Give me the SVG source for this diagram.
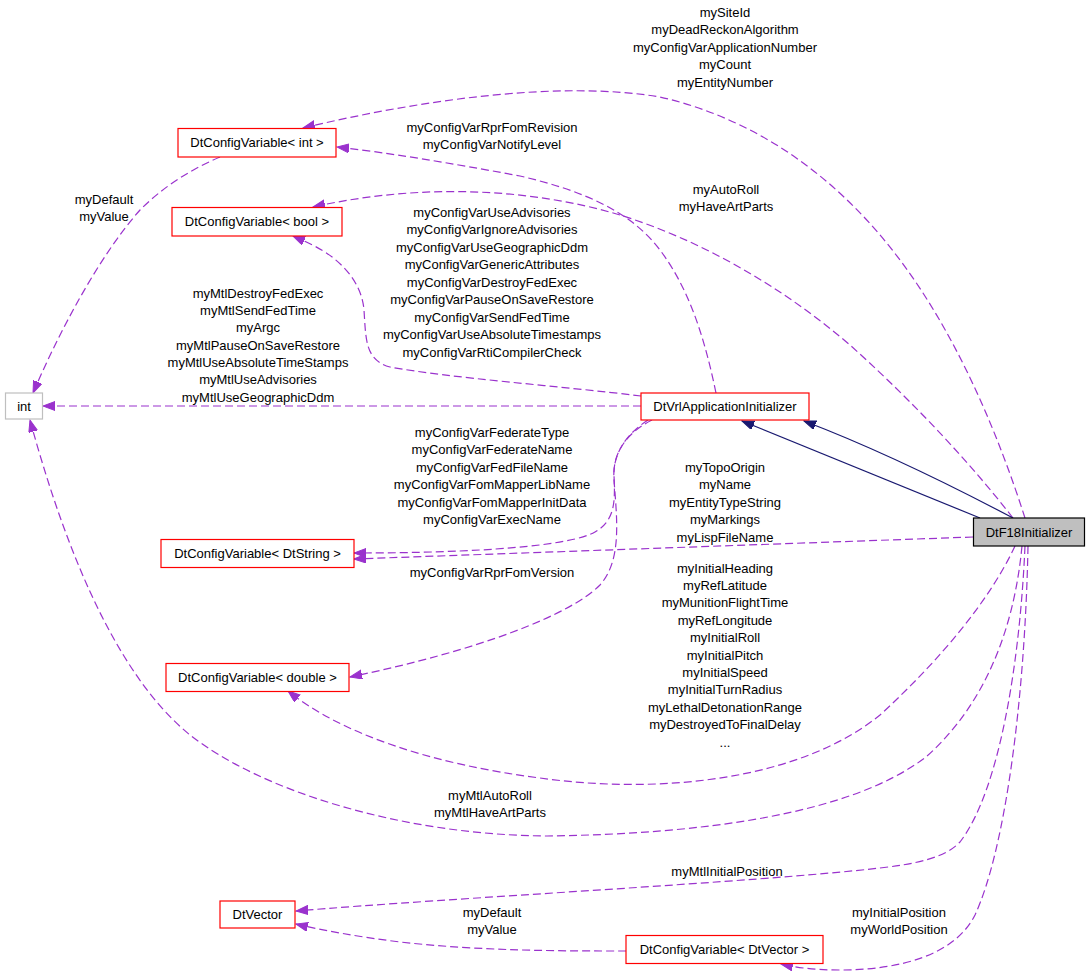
<svg xmlns="http://www.w3.org/2000/svg" width="1091" height="977" viewBox="0 0 1091 977">
<style>
.bg{fill:#ffffff}
.node rect{fill:#ffffff;stroke:#ff0000;stroke-width:1.2}
.node text,.lbl{font-family:"Liberation Sans",Arial,Helvetica,sans-serif;font-size:13px;text-anchor:middle;fill:#000000}
.dep{fill:none;stroke:#9a32cd;stroke-width:1.2;stroke-dasharray:8,4;marker-end:url(#ap)}
.inh{fill:none;stroke:#191970;stroke-width:1.2;marker-end:url(#an)}
</style>
<defs>
<marker id="ap" markerUnits="userSpaceOnUse" markerWidth="13" markerHeight="10" refX="12" refY="4.5" orient="auto">
<path d="M0,0 L12,4.5 L0,9 Z" fill="#9a32cd" stroke="#9a32cd" stroke-width="1" stroke-dasharray="none"/>
</marker>
<marker id="an" markerUnits="userSpaceOnUse" markerWidth="13" markerHeight="10" refX="12" refY="4.5" orient="auto">
<path d="M0,0 L12,4.5 L0,9 Z" fill="#191970" stroke="#191970" stroke-width="1" stroke-dasharray="none"/>
</marker>
</defs>
<rect class="bg" x="0" y="0" width="1091" height="977"/>

<g id="connectors">
<!-- DtF18 -> DtConfigVariable<int> -->
<path class="dep" d="M1025,518 C1000,440 960,340 900,260 C840,180 760,120 660,97 C560,80 420,100 303,128"/>
<!-- DtVrl -> DtConfigVariable<int> -->
<path class="dep" d="M716,393 C705,340 690,290 660,250 C630,210 580,190 520,176 C450,163 390,153 337,147"/>
<!-- DtF18 -> DtConfigVariable<bool> -->
<path class="dep" d="M1013,518 C960,450 900,390 850,345 C780,285 700,240 620,215 C530,188 420,183 313,207"/>
<!-- DtVrl -> DtConfigVariable<bool> -->
<path class="dep" d="M641,396 C560,386 450,378 390,367 C365,360 366,340 364,310 C362,285 345,265 325,252 C312,244 302,240 293,236"/>
<!-- DtVrl -> int -->
<path class="dep" d="M641,406 L43,406"/>
<!-- DtConfigVariable<int> -> int -->
<path class="dep" d="M220,157 C185,172 160,190 140,210 C100,255 60,330 33,393"/>
<!-- DtF18 -> int -->
<path class="dep" d="M1022,546 C1015,620 990,700 926,757 C850,815 700,834 547,836 C400,835 260,790 190,735 C110,670 60,530 30,420"/>
<!-- DtVrl -> DtConfigVariable<DtString> -->
<path class="dep" d="M652,420 C628,432 613,452 614,475 C615,500 616,520 595,532 C570,546 480,553 354,553"/>
<!-- DtF18 -> DtConfigVariable<DtString> -->
<path class="dep" d="M973,537 L354,559"/>
<!-- DtVrl -> DtConfigVariable<double> -->
<path class="dep" d="M648,420 C625,435 612,455 614,480 C617,520 622,560 600,585 C570,615 480,650 350,677"/>
<!-- DtF18 -> DtConfigVariable<double> -->
<path class="dep" d="M1015,546 C990,600 940,660 880,715 C800,780 660,795 540,778 C430,764 340,733 288,691"/>
<!-- DtF18 -> DtVector -->
<path class="dep" d="M1025,546 C1020,660 1000,790 960,842 C945,858 915,864 880,868 C760,882 450,898 296,911"/>
<!-- DtConfigVariable<DtVector> -> DtVector -->
<path class="dep" d="M626,951 C560,951 480,951 400,942 C360,937 320,930 296,924"/>
<!-- DtF18 -> DtConfigVariable<DtVector> -->
<path class="dep" d="M1028,546 C1025,700 1005,850 975,915 C955,955 900,970 840,970 C810,970 795,967 781,964"/>
<!-- inheritance -->
<path class="inh" d="M980,518 L742,421"/>
<path class="inh" d="M1013,518 C960,490 880,450 804,421"/>
</g>

<g id="edge-labels">
<text class="lbl" x="725" y="17">mySiteId</text>
<text class="lbl" x="725" y="34.4">myDeadReckonAlgorithm</text>
<text class="lbl" x="725" y="51.8">myConfigVarApplicationNumber</text>
<text class="lbl" x="725" y="69.2">myCount</text>
<text class="lbl" x="725" y="86.6">myEntityNumber</text>

<text class="lbl" x="492" y="131.5">myConfigVarRprFomRevision</text>
<text class="lbl" x="492" y="148.5">myConfigVarNotifyLevel</text>

<text class="lbl" x="104" y="203.5">myDefault</text>
<text class="lbl" x="104" y="220.5">myValue</text>

<text class="lbl" x="726" y="193.5">myAutoRoll</text>
<text class="lbl" x="726" y="211">myHaveArtParts</text>

<text class="lbl" x="492" y="216.5">myConfigVarUseAdvisories</text>
<text class="lbl" x="492" y="234">myConfigVarIgnoreAdvisories</text>
<text class="lbl" x="492" y="251.5">myConfigVarUseGeographicDdm</text>
<text class="lbl" x="492" y="269">myConfigVarGenericAttributes</text>
<text class="lbl" x="492" y="286.5">myConfigVarDestroyFedExec</text>
<text class="lbl" x="492" y="304">myConfigVarPauseOnSaveRestore</text>
<text class="lbl" x="492" y="321.5">myConfigVarSendFedTime</text>
<text class="lbl" x="492" y="339">myConfigVarUseAbsoluteTimestamps</text>
<text class="lbl" x="492" y="356.5">myConfigVarRtiCompilerCheck</text>

<text class="lbl" x="258" y="297.5">myMtlDestroyFedExec</text>
<text class="lbl" x="258" y="314.8">myMtlSendFedTime</text>
<text class="lbl" x="258" y="332.2">myArgc</text>
<text class="lbl" x="258" y="349.5">myMtlPauseOnSaveRestore</text>
<text class="lbl" x="258" y="366.8">myMtlUseAbsoluteTimeStamps</text>
<text class="lbl" x="258" y="384.2">myMtlUseAdvisories</text>
<text class="lbl" x="258" y="401.5">myMtlUseGeographicDdm</text>

<text class="lbl" x="492" y="436.5">myConfigVarFederateType</text>
<text class="lbl" x="492" y="454">myConfigVarFederateName</text>
<text class="lbl" x="492" y="471.5">myConfigVarFedFileName</text>
<text class="lbl" x="492" y="489">myConfigVarFomMapperLibName</text>
<text class="lbl" x="492" y="506.5">myConfigVarFomMapperInitData</text>
<text class="lbl" x="492" y="524">myConfigVarExecName</text>

<text class="lbl" x="492" y="576.5">myConfigVarRprFomVersion</text>

<text class="lbl" x="725" y="471.5">myTopoOrigin</text>
<text class="lbl" x="725" y="489">myName</text>
<text class="lbl" x="725" y="506.5">myEntityTypeString</text>
<text class="lbl" x="725" y="524">myMarkings</text>
<text class="lbl" x="725" y="541.5">myLispFileName</text>

<text class="lbl" x="725" y="572.5">myInitialHeading</text>
<text class="lbl" x="725" y="589.9">myRefLatitude</text>
<text class="lbl" x="725" y="607.3">myMunitionFlightTime</text>
<text class="lbl" x="725" y="624.7">myRefLongitude</text>
<text class="lbl" x="725" y="642.1">myInitialRoll</text>
<text class="lbl" x="725" y="659.5">myInitialPitch</text>
<text class="lbl" x="725" y="676.9">myInitialSpeed</text>
<text class="lbl" x="725" y="694.3">myInitialTurnRadius</text>
<text class="lbl" x="725" y="711.7">myLethalDetonationRange</text>
<text class="lbl" x="725" y="729.1">myDestroyedToFinalDelay</text>
<text class="lbl" x="725" y="746.5">...</text>

<text class="lbl" x="490" y="799.5">myMtlAutoRoll</text>
<text class="lbl" x="490" y="816.5">myMtlHaveArtParts</text>

<text class="lbl" x="727" y="875.5">myMtlInitialPosition</text>

<text class="lbl" x="492" y="916.5">myDefault</text>
<text class="lbl" x="492" y="934">myValue</text>

<text class="lbl" x="899" y="916.5">myInitialPosition</text>
<text class="lbl" x="899" y="934">myWorldPosition</text>
</g>

<g id="node-cv-int" class="node">
<rect x="178" y="128.5" width="158" height="28.5"/>
<text x="257" y="147">DtConfigVariable&lt; int &gt;</text>
</g>
<g id="node-cv-bool" class="node">
<rect x="172" y="207.5" width="170" height="28.5"/>
<text x="257" y="226">DtConfigVariable&lt; bool &gt;</text>
</g>
<g id="node-int" class="node">
<rect x="5.5" y="393" width="37" height="26" style="stroke:#bfbfbf"/>
<text x="24" y="410.5">int</text>
</g>
<g id="node-vrl" class="node">
<rect x="641" y="393" width="168" height="27"/>
<text x="725" y="411">DtVrlApplicationInitializer</text>
</g>
<g id="node-f18" class="node">
<rect x="973.5" y="518" width="111" height="28" style="fill:#bfbfbf;stroke:#000000"/>
<text x="1029" y="536.5">DtF18Initializer</text>
</g>
<g id="node-cv-string" class="node">
<rect x="161" y="539.5" width="193" height="28"/>
<text x="257.5" y="557.5">DtConfigVariable&lt; DtString &gt;</text>
</g>
<g id="node-cv-double" class="node">
<rect x="166" y="663.5" width="183" height="28"/>
<text x="257.5" y="681.5">DtConfigVariable&lt; double &gt;</text>
</g>
<g id="node-vector" class="node">
<rect x="220" y="901" width="75" height="27"/>
<text x="257.5" y="919">DtVector</text>
</g>
<g id="node-cv-vector" class="node">
<rect x="626" y="935.5" width="197" height="28"/>
<text x="724.5" y="953.5">DtConfigVariable&lt; DtVector &gt;</text>
</g>
</svg>
